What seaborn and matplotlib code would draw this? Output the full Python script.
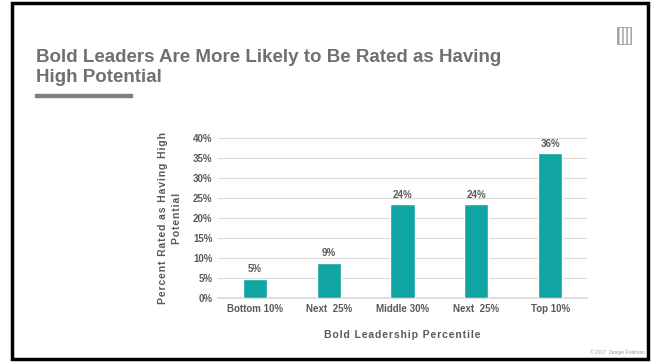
"""
Bold leadership percentile vs. share rated as high potential.
"""
import matplotlib
matplotlib.use("Agg")
import matplotlib.pyplot as plt
from matplotlib.patches import Rectangle
import pandas as pd
import seaborn as sns

categories = ["Bottom 10%", "Next  25%", "Middle 30%", "Next  25% ", "Top 10%"]
tick_labels = ["Bottom 10%", "Next  25%", "Middle 30%", "Next  25%", "Top 10%"]
pct_high_potential = [4.8, 8.8, 23.5, 23.5, 36.2]
bar_labels = ["5%", "9%", "24%", "24%", "36%"]

TEAL = "#10a5a2"
GRAY = "#595959"


def spaced(text):
    # slide text uses a little extra letter spacing
    return "\u200a".join(text)


sns.set_theme(style="white")
plt.rcParams["font.family"] = ["Liberation Sans", "DejaVu Sans"]

df = pd.DataFrame({"group": categories, "pct": pct_high_potential})

fig = plt.figure(figsize=(6.54, 3.62), dpi=100)
ax = fig.add_axes([218 / 654, 1 - 298 / 362, 369 / 654, 160 / 362])

sns.barplot(data=df, x="group", y="pct", color=TEAL, width=0.33,
            saturation=1, ax=ax, zorder=3)

ax.set_ylim(0, 40)
ax.set_yticks(range(0, 41, 5))
ax.set_yticklabels([f"{v}%" for v in range(0, 41, 5)])
ax.set_xticks(range(len(tick_labels)))
ax.set_xticklabels(tick_labels)
ax.yaxis.grid(True, color="#d9d9d9", linewidth=0.8, zorder=0)
for s in ["top", "right", "left"]:
    ax.spines[s].set_visible(False)
ax.spines["bottom"].set_color("#d9d9d9")
ax.tick_params(axis="both", length=0, labelsize=7, labelcolor=GRAY, pad=4)
for t in ax.get_xticklabels() + ax.get_yticklabels():
    t.set_fontweight("bold")

for i, (v, lab) in enumerate(zip(pct_high_potential, bar_labels)):
    ax.text(i, v + 1.1, lab, ha="center", va="bottom", fontsize=7,
            color=GRAY, fontweight="bold")

ax.set_xlabel(spaced("Bold Leadership Percentile"),
              fontsize=7.5, color=GRAY, fontweight="bold", labelpad=12)
ax.set_ylabel(spaced("Percent Rated as Having High") + "\n" + spaced("Potential"),
              fontsize=7.5, color=GRAY, fontweight="bold", labelpad=8,
              linespacing=1.5)

# slide frame, title and decorations
fig.patches.append(Rectangle((11.5 / 654, 1 - 359 / 362), 636 / 654, 356 / 362,
                             transform=fig.transFigure, fill=False,
                             edgecolor="black", linewidth=2.5))
fig.text(36 / 654, 1 - 49 / 362,
         "Bold Leaders Are More Likely to Be Rated as Having\nHigh Potential",
         fontsize=13.5, fontweight="bold", color="#707070", va="top",
         linespacing=1.2)
fig.patches.append(Rectangle((35 / 654, 1 - 96.5 / 362), 97 / 654, 2.8 / 362,
                             transform=fig.transFigure, color="#7f7f7f"))
fig.patches.append(Rectangle((617 / 654, 1 - 44 / 362), 14 / 654, 17 / 362,
                             transform=fig.transFigure, fill=False,
                             edgecolor="#9a9a9a", hatch="||||", linewidth=0.6))
fig.text(645 / 654, 1 - 352 / 362, "© 2017  Zenger Folkman", fontsize=3.5,
         color="#999999", ha="right", va="center")

fig.savefig("out.png", dpi=100, facecolor="white")
